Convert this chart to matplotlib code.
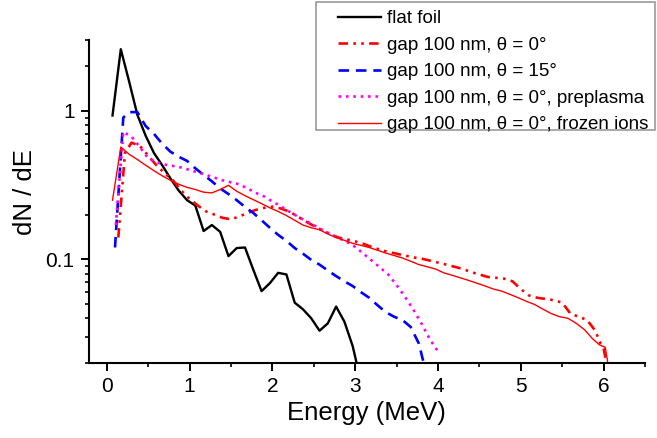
import matplotlib
matplotlib.use("Agg")
import matplotlib.pyplot as plt
from matplotlib.ticker import MultipleLocator, LogLocator, FuncFormatter, NullFormatter
from matplotlib.patches import Rectangle

plt.rcParams['font.family'] = ['Liberation Sans', 'DejaVu Sans']

# ---------------- data ----------------
flat_x = [0.07, 0.17, 0.27, 0.37, 0.47, 0.57, 0.67, 0.77, 0.87, 0.97, 1.07, 1.17, 1.27, 1.37,
          1.47, 1.57, 1.67, 1.77, 1.87, 1.97, 2.07, 2.17, 2.27, 2.37, 2.47, 2.57, 2.67, 2.77,
          2.87, 2.97, 3.07]
flat_y = [0.93, 2.6, 1.58, 0.94, 0.68, 0.52, 0.43, 0.35, 0.29, 0.25, 0.23, 0.155, 0.17, 0.153,
          0.105, 0.119, 0.12, 0.085, 0.061, 0.069, 0.081, 0.079, 0.051, 0.046, 0.040, 0.033, 0.037,
          0.048, 0.038, 0.026, 0.015]

g0_x = [0.14, 0.22, 0.30, 0.40, 0.50, 0.60, 0.70, 0.80, 0.90, 1.00, 1.10, 1.20, 1.30, 1.40, 1.50,
        1.60, 1.70, 1.80, 1.90, 2.00, 2.10, 2.20, 2.30, 2.40, 2.50, 2.60, 2.70, 2.80, 2.90, 3.00,
        3.10, 3.20, 3.30, 3.40, 3.50, 3.60, 3.70, 3.80, 3.90, 4.00, 4.10, 4.20, 4.30, 4.40, 4.50,
        4.60, 4.70, 4.80, 4.90, 5.00, 5.10, 5.20, 5.30, 5.40, 5.50, 5.60, 5.70, 5.80, 5.90, 5.95,
        6.00, 6.07]
g0_y = [0.14, 0.52, 0.61, 0.58, 0.50, 0.43, 0.38, 0.34, 0.29, 0.255, 0.23, 0.21, 0.20, 0.19, 0.186,
        0.194, 0.205, 0.215, 0.222, 0.226, 0.22, 0.21, 0.195, 0.18, 0.168, 0.157, 0.147, 0.14, 0.136,
        0.132, 0.127, 0.121, 0.116, 0.112, 0.109, 0.106, 0.103, 0.101, 0.098, 0.095, 0.092, 0.089,
        0.086, 0.082, 0.079, 0.076, 0.075, 0.074, 0.071, 0.063, 0.057, 0.055, 0.054, 0.053, 0.051,
        0.043, 0.041, 0.039, 0.033, 0.028, 0.025, 0.016]

g15_x = [0.10, 0.20, 0.27, 0.37, 0.47, 0.57, 0.67, 0.77, 0.87, 0.97, 1.07, 1.17, 1.27, 1.37, 1.47,
         1.57, 1.67, 1.77, 1.87, 1.97, 2.07, 2.17, 2.27, 2.37, 2.47, 2.57, 2.67, 2.77, 2.87, 2.97,
         3.07, 3.17, 3.27, 3.37, 3.47, 3.57, 3.67, 3.77, 3.87]
g15_y = [0.12, 0.90, 0.98, 0.98, 0.79, 0.70, 0.60, 0.53, 0.49, 0.46, 0.41, 0.37, 0.335, 0.30, 0.275,
         0.25, 0.225, 0.205, 0.183, 0.163, 0.146, 0.133, 0.119, 0.109, 0.099, 0.092, 0.084, 0.077,
         0.071, 0.066, 0.060, 0.055, 0.049, 0.044, 0.041, 0.039, 0.035, 0.027, 0.016]

pre_x = [0.11, 0.20, 0.30, 0.40, 0.50, 0.60, 0.70, 0.80, 0.90, 1.00, 1.10, 1.20, 1.30, 1.40, 1.50,
         1.60, 1.70, 1.80, 1.90, 2.00, 2.10, 2.20, 2.30, 2.40, 2.50, 2.60, 2.70, 2.80, 2.90, 3.00,
         3.10, 3.20, 3.30, 3.40, 3.50, 3.60, 3.70, 3.80, 3.90, 4.02]
pre_y = [0.17, 0.72, 0.67, 0.57, 0.48, 0.45, 0.435, 0.425, 0.415, 0.40, 0.385, 0.37, 0.355, 0.34,
         0.33, 0.32, 0.30, 0.28, 0.265, 0.245, 0.228, 0.21, 0.195, 0.182, 0.17, 0.158, 0.148, 0.139,
         0.131, 0.121, 0.109, 0.098, 0.088, 0.079, 0.067, 0.056, 0.046, 0.037, 0.029, 0.023]

frz_x = [0.07, 0.17, 0.27, 0.37, 0.47, 0.57, 0.67, 0.77, 0.87, 0.97, 1.07, 1.17, 1.27, 1.37, 1.47,
         1.57, 1.67, 1.77, 1.87, 1.97, 2.07, 2.17, 2.27, 2.37, 2.47, 2.57, 2.67, 2.77, 2.87, 2.97,
         3.07, 3.17, 3.27, 3.37, 3.47, 3.57, 3.67, 3.77, 3.87, 3.97, 4.07, 4.17, 4.27, 4.37, 4.47,
         4.57, 4.67, 4.77, 4.87, 4.97, 5.07, 5.17, 5.27, 5.37, 5.47, 5.57, 5.67, 5.77, 5.87, 5.95,
         6.02, 6.08]
frz_y = [0.25, 0.57, 0.51, 0.47, 0.43, 0.395, 0.365, 0.34, 0.32, 0.305, 0.295, 0.283, 0.28, 0.295,
         0.315, 0.287, 0.268, 0.252, 0.237, 0.222, 0.21, 0.197, 0.183, 0.17, 0.163, 0.158, 0.148,
         0.14, 0.134, 0.128, 0.124, 0.12, 0.115, 0.11, 0.106, 0.102, 0.097, 0.092, 0.089, 0.086,
         0.081, 0.078, 0.075, 0.072, 0.069, 0.066, 0.063, 0.061, 0.058, 0.055, 0.052, 0.0495, 0.046,
         0.043, 0.041, 0.040, 0.037, 0.0335, 0.029, 0.0265, 0.0255, 0.016]

labels = ["flat foil", "gap 100 nm, \u03b8 = 0\u00b0", "gap 100 nm, \u03b8 = 15\u00b0",
          "gap 100 nm, \u03b8 = 0\u00b0, preplasma", "gap 100 nm, \u03b8 = 0\u00b0, frozen ions"]

x_ticks = [0, 1, 2, 3, 4, 5, 6]

# ---------------- figure ----------------
W, H = 657, 438
fig = plt.figure(figsize=(W / 100, H / 100), dpi=100)
ax = fig.add_axes([88.5 / W, 1 - 363 / H, (645 - 88.5) / W, (363 - 40) / H])

l1, = ax.plot(flat_x, flat_y, color='black', lw=1.7, label=labels[0])
l2, = ax.plot(g0_x, g0_y, color='#ff0000', lw=1.9, dashes=(3.6, 2, 1, 2, 1, 2), label=labels[1])
l3, = ax.plot(g15_x, g15_y, color='#0000ff', lw=1.9, dashes=(4, 2.6), label=labels[2])
l4, = ax.plot(pre_x, pre_y, color='#ff00ff', lw=1.9, dashes=(1, 1.8), label=labels[3])
l5, = ax.plot(frz_x, frz_y, color='#ff0000', lw=1.0, label=labels[4])

ax.set_yscale('log')
ax.set_xlim(-0.22, 6.5)
ax.set_ylim(0.02, 3.0)

ax.set_xticks(x_ticks)
ax.xaxis.set_minor_locator(MultipleLocator(0.5))
ax.yaxis.set_major_locator(LogLocator(base=10, numticks=10))
ax.yaxis.set_minor_locator(LogLocator(base=10, subs=range(2, 10), numticks=20))
ax.yaxis.set_major_formatter(FuncFormatter(lambda v, p: '%g' % v))
ax.yaxis.set_minor_formatter(NullFormatter())

for s in ['top', 'right']:
    ax.spines[s].set_visible(False)
for s in ['left', 'bottom']:
    ax.spines[s].set_linewidth(1.5)

ax.tick_params(which='major', direction='out', length=6, width=1.4, labelsize=15, pad=4)
ax.tick_params(which='minor', direction='out', length=3.2, width=1.2)

ax.set_xlabel('Energy (MeV)', fontsize=18.5, labelpad=4)
ax.set_ylabel('dN / dE', fontsize=18.5)
ax.yaxis.set_label_coords(-0.092, 0.53)

# legend box
fig.patches.append(Rectangle((315.7 / W, 1 - 130 / H), (655 - 315.7) / W, 128 / H,
                             transform=fig.transFigure, facecolor='white',
                             edgecolor='#9a9a9a', lw=1.2, zorder=5))
leg = fig.legend(handles=[l1, l2, l3, l4, l5], loc='upper left',
                 bbox_to_anchor=(338 / W, 1 - 10 / H), bbox_transform=fig.transFigure,
                 frameon=False, fontsize=13.5, handlelength=2.3, handletextpad=0.3,
                 labelspacing=0.5, borderpad=0, borderaxespad=0)
leg.set_zorder(6)

fig.savefig('out.png', dpi=100)
